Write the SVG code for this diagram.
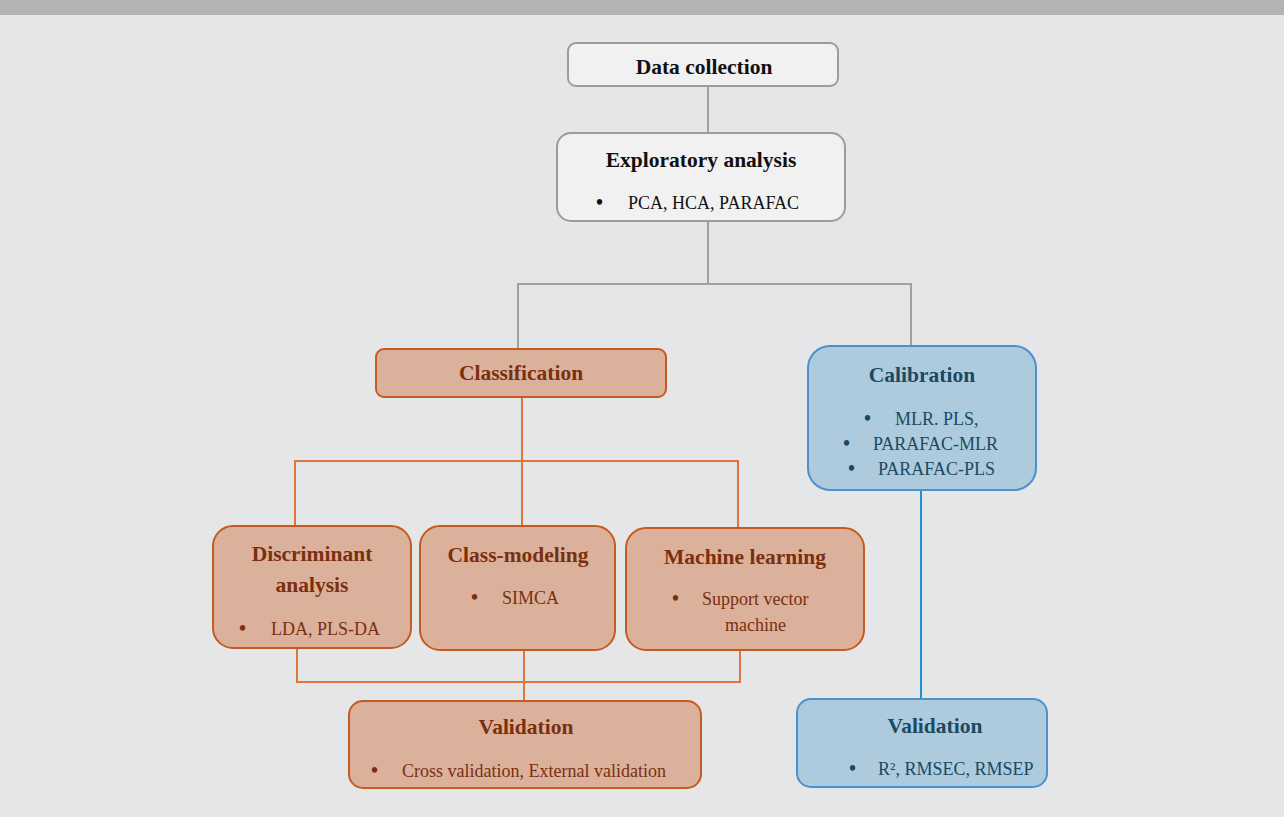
<svg xmlns="http://www.w3.org/2000/svg" width="1284" height="817" viewBox="0 0 1284 817">
<style>
text{font-family:"Liberation Serif","DejaVu Serif",serif;}
.t{font-weight:bold;font-size:21.5px;text-anchor:middle;}
.b{font-size:18px;}
.d{font-size:20px;font-weight:bold;}
.gray rect{fill:#f1f1f2;stroke:#9c9c9c;stroke-width:2;}
.gray text{fill:#111;}
.or rect{fill:#dbb19b;stroke:#c65b21;stroke-width:2;}
.or text{fill:#7a2f0f;}
.bl rect{fill:#aecbdd;stroke:#4d90cd;stroke-width:2;}
.bl text{fill:#1a4a63;}
.cg{stroke:#a0a0a0;stroke-width:2;fill:none;}
.co{stroke:#e0773a;stroke-width:2;fill:none;}
.cb{stroke:#1e95d2;stroke-width:2;fill:none;}
</style>
<rect x="0" y="0" width="1284" height="817" fill="#e5e6e8"/>
<rect x="0" y="0" width="1284" height="15" fill="#b2b3b5"/>
<g id="connectors">
<path class="cg" d="M708 86V133M708 221V284M518 349V284H911V347"/>
<path class="co" d="M522 397V461M295 527V461H738V528M522 461V526"/>
<path class="co" d="M297 648V682H740V650M524 650V701"/>
<path class="cb" d="M921 490V699"/>
</g>
<g id="data-collection" class="gray">
<rect x="568" y="43" width="270" height="43" rx="8"/>
<text class="t" x="704" y="74">Data collection</text>
</g>
<g id="exploratory" class="gray">
<rect x="557" y="133" width="288" height="88" rx="14"/>
<text class="t" x="701" y="167">Exploratory analysis</text>
<text class="d" x="596" y="209">•</text>
<text class="b" x="628" y="209">PCA, HCA, PARAFAC</text>
</g>
<g id="classification" class="or">
<rect x="376" y="349" width="290" height="48" rx="8"/>
<text class="t" x="521" y="380">Classification</text>
</g>
<g id="calibration" class="bl">
<rect x="808" y="346" width="228" height="144" rx="22"/>
<text class="t" x="922" y="382">Calibration</text>
<text class="d" x="864" y="425">•</text>
<text class="b" x="895" y="425">MLR. PLS,</text>
<text class="d" x="843" y="450">•</text>
<text class="b" x="873" y="450">PARAFAC-MLR</text>
<text class="d" x="848" y="475">•</text>
<text class="b" x="878" y="475">PARAFAC-PLS</text>
</g>
<g id="discriminant" class="or">
<rect x="213" y="526" width="198" height="122" rx="20"/>
<text class="t" x="312" y="561">Discriminant</text>
<text class="t" x="312" y="592">analysis</text>
<text class="d" x="239" y="635">•</text>
<text class="b" x="271" y="635">LDA, PLS-DA</text>
</g>
<g id="class-modeling" class="or">
<rect x="420" y="526" width="195" height="124" rx="20"/>
<text class="t" x="518" y="562">Class-modeling</text>
<text class="d" x="471" y="604">•</text>
<text class="b" x="502" y="604">SIMCA</text>
</g>
<g id="machine-learning" class="or">
<rect x="626" y="528" width="238" height="122" rx="20"/>
<text class="t" x="745" y="564">Machine learning</text>
<text class="d" x="672" y="605">•</text>
<text class="b" x="702" y="605">Support vector</text>
<text class="b" x="725" y="631">machine</text>
</g>
<g id="validation-class" class="or">
<rect x="349" y="701" width="352" height="87" rx="14"/>
<text class="t" x="526" y="734">Validation</text>
<text class="d" x="371" y="777">•</text>
<text class="b" x="402" y="777">Cross validation, External validation</text>
</g>
<g id="validation-cal" class="bl">
<rect x="797" y="699" width="250" height="88" rx="14"/>
<text class="t" x="935" y="733">Validation</text>
<text class="d" x="849" y="775">•</text>
<text class="b" x="878" y="775">R², RMSEC, RMSEP</text>
</g>
</svg>
